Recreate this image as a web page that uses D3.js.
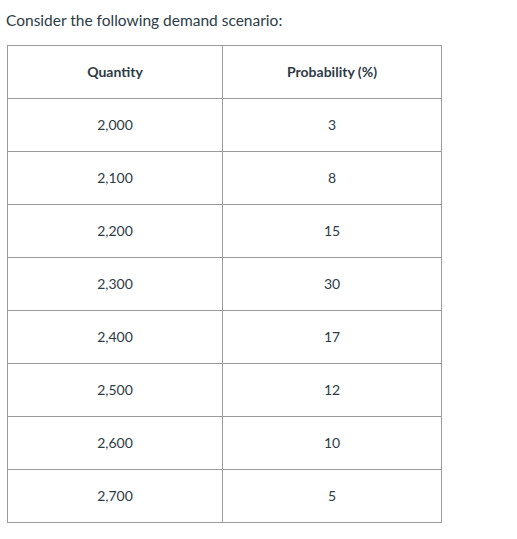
<!DOCTYPE html>
<html>
<head>
<meta charset="utf-8">
<style>
  body { margin: 0; background: #fff; font-family: Lato, sans-serif; }
</style>
</head>
<body>
<svg width="517" height="539"></svg>
<script src="https://d3js.org/d3.v7.min.js"></script>
<script>
var headers = ["Quantity", "Probability (%)"];
var quantities = ["2,000", "2,100", "2,200", "2,300", "2,400", "2,500", "2,600", "2,700"];
var probabilities = [3, 8, 15, 30, 17, 12, 10, 5];

var svg = d3.select("svg");

svg.append("text")
    .attr("x", 6).attr("y", 26)
    .attr("font-size", 15.5).attr("fill", "#2d3b45")
    .text("Consider the following demand scenario:");

var tLeft = 7.5, tMid = 222.5, tRight = 441.5, tTop = 45.5, rowH = 53;
var nRows = quantities.length + 1;

var y = d3.scaleLinear().domain([0, nRows]).range([tTop, tTop + nRows * rowH]);
var colX = [(tLeft + tMid) / 2, (tMid + tRight) / 2];

var g = svg.append("g");

// borders
g.append("rect").attr("x", tLeft).attr("y", tTop)
    .attr("width", tRight - tLeft).attr("height", nRows * rowH)
    .attr("fill", "none").attr("stroke", "#9a9a9a");
g.append("line").attr("x1", tMid).attr("x2", tMid).attr("y1", tTop).attr("y2", y(nRows))
    .attr("stroke", "#9a9a9a");
g.selectAll(".hline").data(d3.range(1, nRows)).join("line")
    .attr("x1", tLeft).attr("x2", tRight)
    .attr("y1", d => y(d)).attr("y2", d => y(d))
    .attr("stroke", "#9a9a9a");

// header
g.selectAll(".head").data(headers).join("text")
    .attr("x", (d, i) => colX[i]).attr("y", y(0.5) + 5)
    .attr("text-anchor", "middle").attr("font-size", 14)
    .attr("font-weight", "bold").attr("fill", "#2d3b45")
    .text(d => d);

var rows = quantities.map((q, i) => [q, probabilities[i]]);
rows.forEach(function(r, i) {
  g.selectAll(".c" + i).data(r).join("text")
      .attr("x", (d, j) => colX[j]).attr("y", y(i + 1.5) + 5)
      .attr("text-anchor", "middle").attr("font-size", 14)
      .attr("fill", "#2d3b45")
      .text(d => d);
});
</script>
</body>
</html>
